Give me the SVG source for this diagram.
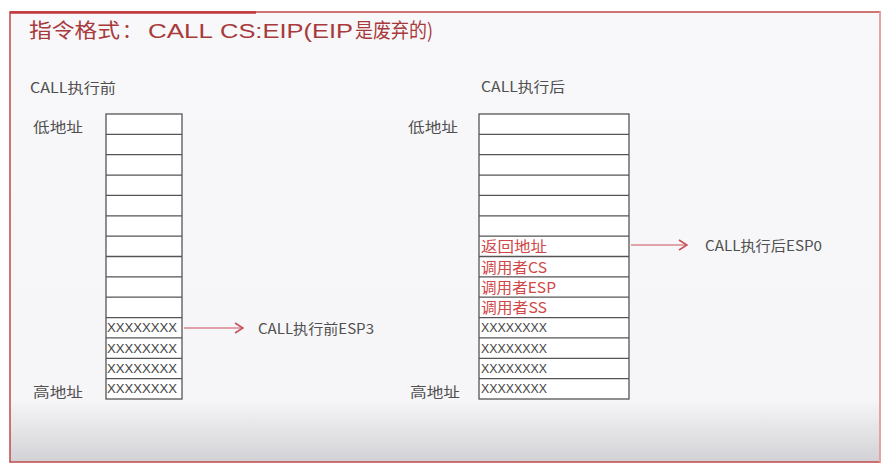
<svg xmlns="http://www.w3.org/2000/svg" width="896" height="473" viewBox="0 0 896 473">
<defs>
<linearGradient id="bg" x1="0" y1="0" x2="0" y2="1">
<stop offset="0" stop-color="#f8f8fa"/>
<stop offset="0.86" stop-color="#f6f6f8"/>
<stop offset="0.9" stop-color="#ececee"/>
<stop offset="1" stop-color="#d2d2d6"/>
</linearGradient>
<marker id="chev" viewBox="0 0 10 12" refX="9" refY="6" markerWidth="10" markerHeight="12" markerUnits="userSpaceOnUse" orient="auto">
<path d="M1,1 L9,6 L1,11" fill="none" stroke="#c8505a" stroke-width="1.6"/>
</marker>
</defs>
<style>
.t{font-family:"Noto Sans CJK SC","Noto Sans",sans-serif;font-size:14px;fill:#505050;}
.r{font-family:"Noto Sans CJK SC","Noto Sans",sans-serif;font-size:15px;fill:#d04848;}
.x{font-family:"Liberation Sans",sans-serif;font-size:12px;fill:#444;}
.cell{fill:#ffffff;stroke:#555;stroke-width:1.3;}
.rows line{stroke:#555;stroke-width:1.3;}
.ttl{font-family:"Liberation Sans","Noto Sans CJK SC",sans-serif;font-size:20px;fill:#a83a3c;}
.ttlc{font-family:"Noto Sans CJK SC",sans-serif;font-size:20px;fill:#a83a3c;}
.conn{stroke:#c8505a;stroke-width:1.2;fill:none;}
</style>
<rect x="0" y="0" width="896" height="473" fill="#ffffff"/>
<rect x="10" y="12" width="870" height="450" fill="url(#bg)" stroke="#c0484a" stroke-width="1.5"/>
<line x1="10" y1="12.5" x2="256" y2="12.5" stroke="#c03838" stroke-width="2.5"/>
<line x1="880" y1="12" x2="880" y2="462" stroke="#e8a0a0" stroke-width="2"/>

<g id="title">
<text class="ttlc" x="29" y="38" textLength="91" lengthAdjust="spacingAndGlyphs">指令格式</text>
<text class="ttlc" x="122" y="38">：</text>
<text class="ttl" x="148" y="38" textLength="65" lengthAdjust="spacingAndGlyphs">CALL</text>
<text class="ttl" x="220" y="38" textLength="133" lengthAdjust="spacingAndGlyphs">CS:EIP(EIP</text>
<text class="ttlc" x="355" y="38" textLength="78" lengthAdjust="spacingAndGlyphs">是废弃的)</text>
</g>

<g id="stack-before">
<text class="t" x="30" y="93" textLength="86" lengthAdjust="spacingAndGlyphs">CALL执行前</text>
<text class="t" x="33" y="132" textLength="50" lengthAdjust="spacingAndGlyphs">低地址</text>
<text class="t" x="33" y="397" textLength="50" lengthAdjust="spacingAndGlyphs">高地址</text>
<rect class="cell" x="106" y="114" width="76" height="285"/>
<g class="rows">
<line x1="106" y1="134.4" x2="182" y2="134.4"/>
<line x1="106" y1="154.7" x2="182" y2="154.7"/>
<line x1="106" y1="175.1" x2="182" y2="175.1"/>
<line x1="106" y1="195.4" x2="182" y2="195.4"/>
<line x1="106" y1="215.8" x2="182" y2="215.8"/>
<line x1="106" y1="236.1" x2="182" y2="236.1"/>
<line x1="106" y1="256.5" x2="182" y2="256.5"/>
<line x1="106" y1="276.9" x2="182" y2="276.9"/>
<line x1="106" y1="297.2" x2="182" y2="297.2"/>
<line x1="106" y1="317.6" x2="182" y2="317.6"/>
<line x1="106" y1="337.9" x2="182" y2="337.9"/>
<line x1="106" y1="358.3" x2="182" y2="358.3"/>
<line x1="106" y1="378.6" x2="182" y2="378.6"/>
</g>
<text class="x" x="107" y="332" textLength="70" lengthAdjust="spacingAndGlyphs">XXXXXXXX</text>
<text class="x" x="107" y="352.5" textLength="70" lengthAdjust="spacingAndGlyphs">XXXXXXXX</text>
<text class="x" x="107" y="373" textLength="70" lengthAdjust="spacingAndGlyphs">XXXXXXXX</text>
<text class="x" x="107" y="393" textLength="70" lengthAdjust="spacingAndGlyphs">XXXXXXXX</text>
<text class="t" x="258" y="334" textLength="116" lengthAdjust="spacingAndGlyphs">CALL执行前ESP3</text>
</g>

<g id="stack-after">
<text class="t" x="481" y="92" textLength="84" lengthAdjust="spacingAndGlyphs">CALL执行后</text>
<text class="t" x="408" y="132" textLength="50" lengthAdjust="spacingAndGlyphs">低地址</text>
<text class="t" x="410" y="397" textLength="50" lengthAdjust="spacingAndGlyphs">高地址</text>
<rect class="cell" x="479" y="114" width="150" height="285"/>
<g class="rows">
<line x1="479" y1="134.4" x2="629" y2="134.4"/>
<line x1="479" y1="154.7" x2="629" y2="154.7"/>
<line x1="479" y1="175.1" x2="629" y2="175.1"/>
<line x1="479" y1="195.4" x2="629" y2="195.4"/>
<line x1="479" y1="215.8" x2="629" y2="215.8"/>
<line x1="479" y1="236.1" x2="629" y2="236.1"/>
<line x1="479" y1="256.5" x2="629" y2="256.5"/>
<line x1="479" y1="276.9" x2="629" y2="276.9"/>
<line x1="479" y1="297.2" x2="629" y2="297.2"/>
<line x1="479" y1="317.6" x2="629" y2="317.6"/>
<line x1="479" y1="337.9" x2="629" y2="337.9"/>
<line x1="479" y1="358.3" x2="629" y2="358.3"/>
<line x1="479" y1="378.6" x2="629" y2="378.6"/>
</g>
<text class="r" x="481" y="252" textLength="66" lengthAdjust="spacingAndGlyphs">返回地址</text>
<text class="r" x="481" y="272.5" textLength="66" lengthAdjust="spacingAndGlyphs">调用者CS</text>
<text class="r" x="481" y="293" textLength="75" lengthAdjust="spacingAndGlyphs">调用者ESP</text>
<text class="r" x="481" y="313" textLength="66" lengthAdjust="spacingAndGlyphs">调用者SS</text>
<text class="x" x="481" y="332" textLength="66" lengthAdjust="spacingAndGlyphs">XXXXXXXX</text>
<text class="x" x="481" y="352.5" textLength="66" lengthAdjust="spacingAndGlyphs">XXXXXXXX</text>
<text class="x" x="481" y="373" textLength="66" lengthAdjust="spacingAndGlyphs">XXXXXXXX</text>
<text class="x" x="481" y="393" textLength="66" lengthAdjust="spacingAndGlyphs">XXXXXXXX</text>
<text class="t" x="705" y="251" textLength="117" lengthAdjust="spacingAndGlyphs">CALL执行后ESP0</text>
</g>

<g id="connectors">
<line class="conn" x1="184" y1="328" x2="243" y2="328" marker-end="url(#chev)"/>
<line class="conn" x1="631" y1="245" x2="687" y2="245" marker-end="url(#chev)"/>
</g>
</svg>
